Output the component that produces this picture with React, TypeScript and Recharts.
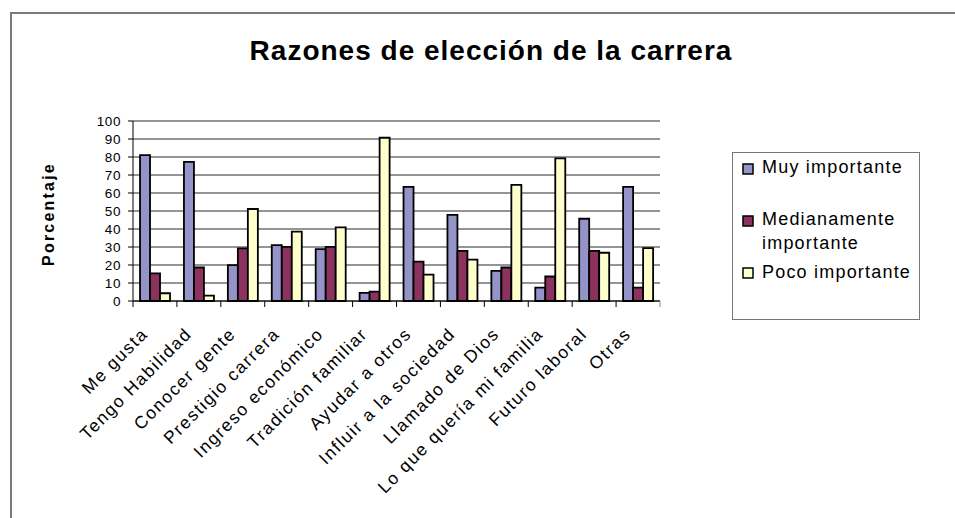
import React from 'react';
import { BarChart, Bar, XAxis, YAxis, CartesianGrid } from 'recharts';

const categories = [
  'Me gusta',
  'Tengo Habilidad',
  'Conocer gente',
  'Prestigio carrera',
  'Ingreso económico',
  'Tradición familiar',
  'Ayudar a otros',
  'Influir a la sociedad',
  'Llamado de Dios',
  'Lo que quería mi familia',
  'Futuro laboral',
  'Otras',
];
const muyImportante = [81, 77.3, 19.9, 31, 28.8, 4.5, 63.4, 47.8, 16.7, 7.4, 45.7, 63.4];
const medianamenteImportante = [15.4, 18.6, 29.2, 30.1, 30.1, 5.2, 21.9, 27.9, 18.6, 13.6, 27.9, 7.4];
const pocoImportante = [4.3, 3, 51.1, 38.5, 40.9, 90.7, 14.7, 23, 64.5, 79.2, 26.8, 29.4];
const yTicks = [0, 10, 20, 30, 40, 50, 60, 70, 80, 90, 100];
const seriesNames = ['Muy importante', 'Medianamente importante', 'Poco importante'];
const seriesKeys = ['muy', 'medi', 'poco'];
const seriesColors = ['#9494C8', '#8C325F', '#FFFFCC'];
const title = 'Razones de elección de la carrera';
const yLabel = 'Porcentaje';

const data = categories.map((c, i) => ({
  name: c,
  muy: muyImportante[i],
  medi: medianamenteImportante[i],
  poco: pocoImportante[i],
}));

const FONT = "'Liberation Sans', Arial, sans-serif";

function XTick(props: any) {
  const { x, y, payload, index } = props;
  const half = payload && payload.offset != null ? payload.offset : 22;
  const isLast = index === categories.length - 1;
  const tx = x - 6;
  const ty = y + 34;
  return (
    <g>
      <line x1={x - half} x2={x - half} y1={y} y2={y + 6} stroke="#000" strokeWidth={1} />
      {isLast && <line x1={x + half} x2={x + half} y1={y} y2={y + 6} stroke="#888" strokeWidth={1} />}
      <text
        x={tx}
        y={ty}
        transform={`rotate(-45 ${tx} ${ty})`}
        textAnchor="end"
        fontSize={17.5}
        fontFamily={FONT}
        fill="#000"
        style={{ letterSpacing: '1.6px' }}
      >
        {payload.value}
      </text>
    </g>
  );
}

function LegendBox() {
  const rows = [
    { sq: 11, lines: [{ t: seriesNames[0], b: 20 }] },
    { sq: 63, lines: [{ t: 'Medianamente', b: 72 }, { t: 'importante', b: 96 }] },
    { sq: 115, lines: [{ t: seriesNames[2], b: 125 }] },
  ];
  return (
    <div
      style={{
        position: 'absolute',
        left: 732,
        top: 152,
        width: 188,
        height: 168,
        border: '1px solid #777',
        boxSizing: 'border-box',
        background: '#fff',
      }}
    >
      <svg width={186} height={166} style={{ display: 'block' }}>
        {rows.map((r, i) => (
          <g key={i}>
            <rect x={10} y={r.sq} width={10} height={10} fill={seriesColors[i]} stroke="#000" strokeWidth={1.5} />
            {r.lines.map((l, j) => (
              <text key={j} x={29} y={l.b} fontSize={18} fontFamily={FONT} fill="#000" style={{ letterSpacing: '1.2px' }}>
                {l.t}
              </text>
            ))}
          </g>
        ))}
      </svg>
    </div>
  );
}

export default function App() {
  return (
    <div style={{ position: 'absolute', left: 0, top: 0, width: 955, height: 518, background: '#fff', overflow: 'hidden' }}>
      <div
        style={{
          position: 'absolute',
          left: 10,
          top: 12,
          width: 1000,
          height: 600,
          borderLeft: '2px solid #7a7a7a',
          borderTop: '2px solid #7a7a7a',
        }}
      />
      <div style={{ position: 'absolute', left: 0, top: 0 }}>
        <BarChart
          width={955}
          height={518}
          data={data}
          margin={{ top: 121, right: 295, bottom: 67, left: 73 }}
          barCategoryGap="16%"
          barGap={0}
        >
          <CartesianGrid horizontal vertical={false} stroke="#2a2a2a" strokeWidth={1} />
          <XAxis
            dataKey="name"
            interval={0}
            height={150}
            tickLine={false}
            tickSize={0}
            tickMargin={0}
            axisLine={{ stroke: '#000', strokeWidth: 1 }}
            tick={<XTick />}
          />
          <YAxis
            width={60}
            domain={[0, 100]}
            ticks={yTicks}
            interval={0}
            tickSize={5}
            tickMargin={7}
            axisLine={{ stroke: '#000', strokeWidth: 1 }}
            tickLine={{ stroke: '#000' }}
            tick={{ fill: '#000', fontSize: 13.5, fontFamily: FONT, style: { letterSpacing: '0.6px' } }}
          />
          <YAxis
            yAxisId="right"
            orientation="right"
            width={0}
            domain={[0, 100]}
            tick={false}
            tickLine={false}
            axisLine={{ stroke: '#888', strokeWidth: 1 }}
          />
          {seriesKeys.map((k, i) => (
            <Bar
              key={k}
              dataKey={k}
              name={seriesNames[i]}
              fill={seriesColors[i]}
              stroke="#000"
              strokeWidth={1.8}
              isAnimationActive={false}
            />
          ))}
        </BarChart>
      </div>
      <LegendBox />
      <svg width={955} height={518} style={{ position: 'absolute', left: 0, top: 0, pointerEvents: 'none' }}>
        <text
          x={491}
          y={60}
          textAnchor="middle"
          fontSize={28}
          fontWeight="bold"
          fontFamily={FONT}
          fill="#000"
          style={{ letterSpacing: '1px' }}
        >
          {title}
        </text>
        <text
          x={54}
          y={214}
          transform="rotate(-90 54 214)"
          textAnchor="middle"
          fontSize={16}
          fontWeight="bold"
          fontFamily={FONT}
          fill="#000"
          style={{ letterSpacing: '2.2px' }}
        >
          {yLabel}
        </text>
      </svg>
    </div>
  );
}
